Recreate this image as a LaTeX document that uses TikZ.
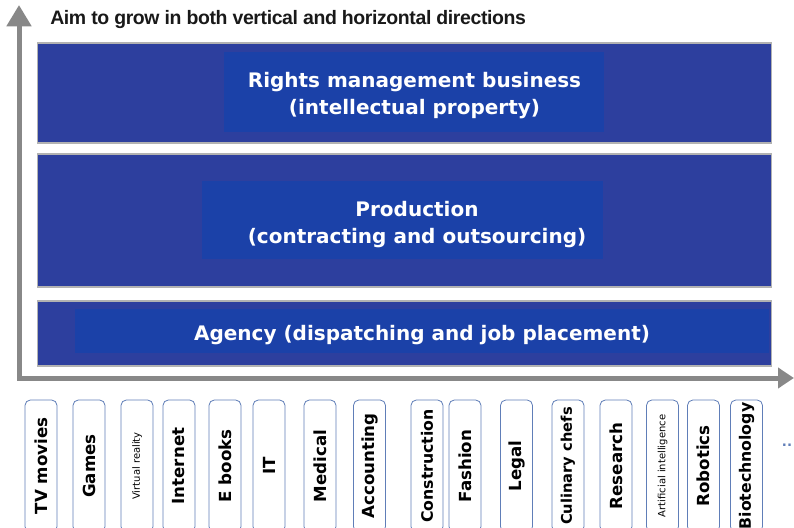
\documentclass[tikz,border=0pt]{standalone}
\usepackage{fontspec}
\setmainfont{DejaVu Sans}
\newfontfamily\headfont{Liberation Sans}[LetterSpace=-2]
\usetikzlibrary{arrows.meta}

\definecolor{layerblue}{RGB}{45,63,158}
\definecolor{coreblue}{RGB}{27,65,168}
\definecolor{axisgray}{RGB}{136,136,136}
\definecolor{fieldline}{RGB}{96,126,184}

\newcommand\fieldbold{\fontsize{12.5}{14}\selectfont\bfseries}
\newcommand\fieldlong{\fontsize{11.8}{14}\selectfont\bfseries}
\newcommand\fieldplain{\fontsize{11}{14}\selectfont\bfseries}
\newcommand\fieldtiny{\fontsize{7.5}{9}\selectfont}

\begin{document}
\begin{tikzpicture}[x=0.75pt, y=-0.75pt,
    layer/.style={draw=black!30, line width=0.8pt, fill=layerblue, minimum width=551pt, inner sep=0pt},
    core/.style={fill=coreblue, inner sep=0pt},
    caption/.style={text=white, align=center, inner sep=0pt, font=\fontsize{15}{20.25}\selectfont\bfseries},
    field/.style={draw=fieldline, line width=0.6pt, rounded corners=4pt, fill=white, rotate=90,
      minimum width=99pt, minimum height=24pt, inner sep=0pt},
    axis/.style={draw=axisgray, line width=3.75pt,
      {Triangle[width=18pt, length=16pt]}-{Triangle[width=15pt, length=12pt]}}]
  \clip (0,0) rectangle (794,528);

  % axes
  \coordinate (ytop) at (19,5);
  \coordinate (origin) at (19,378);
  \coordinate (xend) at (794,378);
  \draw[axis] (ytop) -- (origin) -- (xend);

  \node[anchor=base west, inner sep=0pt, text=black!90, font=\headfont\fontsize{14.6}{16}\selectfont\bfseries]
    (aim) at (50,25) {Aim to grow in both vertical and horizontal directions};

  % three business layers
  \node[layer, minimum height=75pt] (rights) at (404.5,93) {};
  \node[core, minimum width=285pt, minimum height=60pt] (rightsCore) at (414,92) {};
  \node[caption] (rightsText) at (414.5,95.5) {Rights management business\\(intellectual property)};

  \node[layer, minimum height=99.75pt] (production) at (404.5,220.5) {};
  \node[core, minimum width=300.75pt, minimum height=58.5pt] (productionCore) at (402.5,220) {};
  \node[caption] (productionText) at (417,224.5) {Production\\(contracting and outsourcing)};

  \node[layer, minimum height=48.75pt] (agency) at (404.5,333.5) {};
  \node[core, minimum width=520.5pt, minimum height=33pt] (agencyCore) at (422,331) {};
  \node[caption] (agencyText) at (422,335) {Agency (dispatching and job placement)};

  % fields along the horizontal axis
  \foreach \cx/\name/\fnt [count=\i] in {41/TV movies/\fieldbold, 89/Games/\fieldbold,
      137/Virtual reality/\fieldtiny, 179/Internet/\fieldbold, 225/E books/\fieldbold,
      269/IT/\fieldbold, 320/Medical/\fieldbold, 369.5/Accounting/\fieldbold,
      427/Construction/\fieldlong, 465/Fashion/\fieldbold, 516.5/Legal/\fieldbold,
      568/Culinary chefs/\fieldplain, 616/Research/\fieldbold,
      662.5/Artificial intelligence/\fieldtiny, 703.5/Robotics/\fieldbold,
      746.5/Biotechnology/\fieldlong} {
    \node[field, font=\fnt] (f\i) at (\cx,466) {\name};
  }
  \node[text=fieldline, font=\bfseries, inner sep=0pt] (more) at (787,445) {..};
\end{tikzpicture}
\end{document}
